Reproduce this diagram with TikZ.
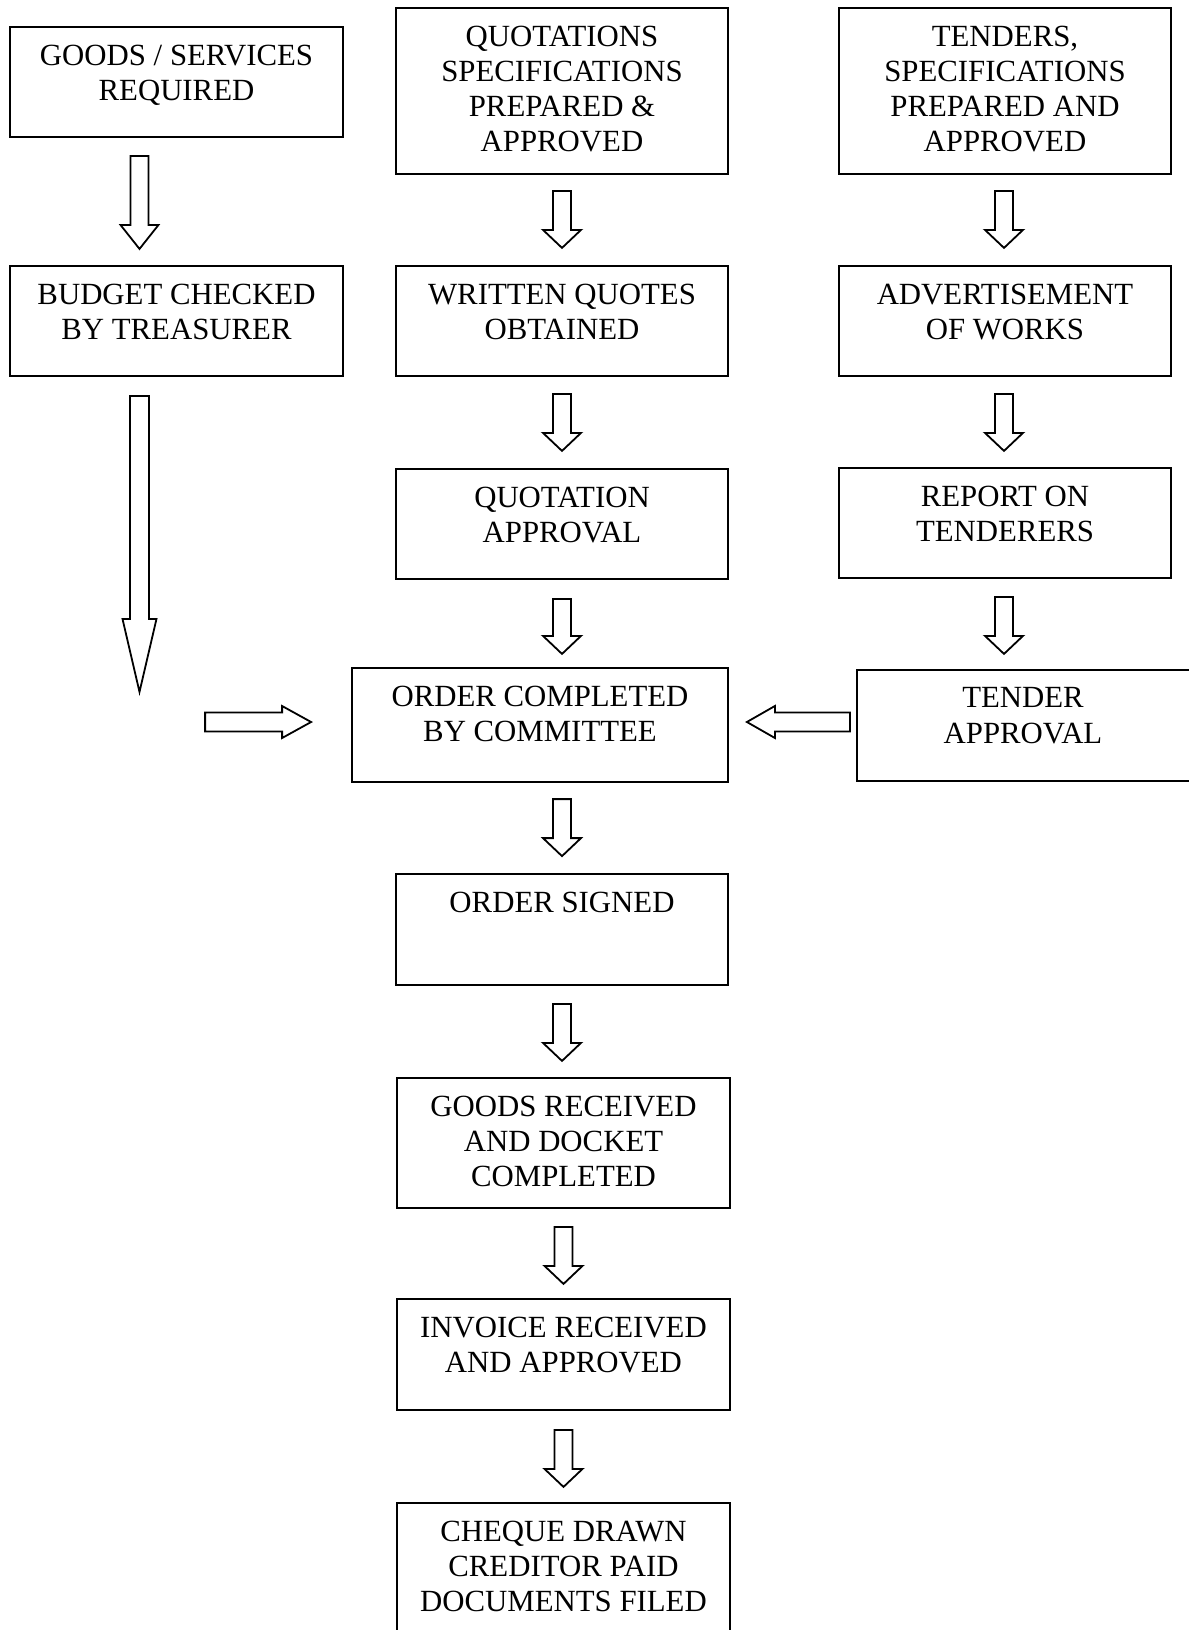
\documentclass[tikz,border=0pt]{standalone}
\usepackage{fontspec}
\setmainfont{Liberation Serif}
\usetikzlibrary{calc}

\tikzset{
  stage/.style={draw, line width=0.9pt, inner sep=0pt},
  stagetext/.style={below=9.1pt, inner sep=0pt, align=center, font=\fontsize{15.4}{17.6}\selectfont},
  arrowline/.style={draw, line width=0.9pt, line join=miter},
  pics/blockarrow/.style n args={4}{code={
    \draw[arrowline] (0,-#3) -- ({#1-#2},-#3) -- ({#1-#2},-#4) -- (#1,0) -- ({#1-#2},#4) -- ({#1-#2},#3) -- (0,#3) -- cycle;
  }}
}

\begin{document}
\begin{tikzpicture}[x=0.5pt, y=-0.5pt]
        \clip (0,0) rectangle (1189,1630);

        \node[stage, minimum width=166.5pt, minimum height=55pt] (goods) at (176.5,82) {};
        \node[stage, minimum width=166.5pt, minimum height=55pt] (budget) at (176.5,321) {};
        \node[stagetext] (goods-t) at (goods.north) {GOODS / SERVICES\\REQUIRED};
        \node[stagetext] (budget-t) at (budget.north) {BUDGET CHECKED\\BY TREASURER};

        \node[stage, minimum width=166pt, minimum height=83pt] (quot) at (562,91) {};
        \node[stage, minimum width=166pt, minimum height=55pt] (written) at (562,321) {};
        \node[stage, minimum width=166pt, minimum height=55pt] (qappr) at (562,524) {};
        \node[stagetext] (quot-t) at (quot.north) {QUOTATIONS\\SPECIFICATIONS\\PREPARED \&\\APPROVED};
        \node[stagetext] (written-t) at (written.north) {WRITTEN QUOTES\\OBTAINED};
        \node[stagetext] (qappr-t) at (qappr.north) {QUOTATION\\APPROVAL};

        \node[stage, minimum width=166pt, minimum height=83pt] (tenders) at (1005,91) {};
        \node[stage, minimum width=166pt, minimum height=55pt] (advert) at (1005,321) {};
        \node[stage, minimum width=166pt, minimum height=55pt] (report) at (1005,523) {};
        \node[stage, minimum width=169pt, minimum height=55.5pt] (tappr) at (1026,725.5) {};
        \node[stagetext] (tenders-t) at (tenders.north) {TENDERS,\\SPECIFICATIONS\\PREPARED AND\\APPROVED};
        \node[stagetext] (advert-t) at (advert.north) {ADVERTISEMENT\\OF WORKS};
        \node[stagetext] (report-t) at (report.north) {REPORT ON\\TENDERERS};
        \node[stagetext] (tappr-t) at ($(tappr.north)+(-3,0)$) {TENDER\\APPROVAL};

        \node[stage, minimum width=188pt, minimum height=57pt] (order) at (540,725) {};
        \node[stage, minimum width=166pt, minimum height=55.5pt] (signed) at (562,929.5) {};
        \node[stage, minimum width=166.5pt, minimum height=65pt] (received) at (563.5,1143) {};
        \node[stage, minimum width=166.5pt, minimum height=55.5pt] (invoice) at (563.5,1354.5) {};
        \node[stage, minimum width=166.5pt, minimum height=80pt] (cheque) at (563.5,1583) {};
        \node[stagetext] (order-t) at (order.north) {ORDER COMPLETED\\BY COMMITTEE};
        \node[stagetext] (signed-t) at (signed.north) {ORDER SIGNED};
        \node[stagetext] (received-t) at (received.north) {GOODS RECEIVED\\AND DOCKET\\COMPLETED};
        \node[stagetext] (invoice-t) at (invoice.north) {INVOICE RECEIVED\\AND APPROVED};
        \node[stagetext] (cheque-t) at (cheque.north) {CHEQUE DRAWN\\CREDITOR PAID\\DOCUMENTS FILED};

        \pic[rotate=-90] at ($(goods.south)+(-37,18)$) {blockarrow={93}{24}{9}{19}};
        \pic[rotate=-90] at ($(budget.south)+(-37,19)$) {blockarrow={296}{73}{9.5}{17}};
        \pic at ($(order.west)+(-146,-3)$) {blockarrow={106}{29}{9.5}{16}};
        \pic[rotate=180] at ($(order.east)+(121,-3)$) {blockarrow={103}{28}{9.5}{16}};

        \pic[rotate=-90] at ($(quot.south)+(0,16)$) {blockarrow={57}{18}{9}{19}};
        \pic[rotate=-90] at ($(written.south)+(0,17)$) {blockarrow={57}{18}{9}{19}};
        \pic[rotate=-90] at ($(qappr.south)+(0,19)$) {blockarrow={55}{18}{9}{19}};
        \pic[rotate=-90] at ($(signed.north)+(0,-74)$) {blockarrow={57}{18}{9}{19}};
        \pic[rotate=-90] at ($(signed.south)+(0,18)$) {blockarrow={57}{18}{9}{19}};
        \pic[rotate=-90] at ($(received.south)+(0,18)$) {blockarrow={57}{18}{9}{19}};
        \pic[rotate=-90] at ($(invoice.south)+(0,19)$) {blockarrow={57}{18}{9}{19}};

        \pic[rotate=-90] at ($(tenders.south)+(-1,16)$) {blockarrow={57}{18}{9}{19}};
        \pic[rotate=-90] at ($(advert.south)+(-1,17)$) {blockarrow={57}{18}{9}{19}};
        \pic[rotate=-90] at ($(report.south)+(-1,18)$) {blockarrow={57}{18}{9}{19}};
\end{tikzpicture}
\end{document}
